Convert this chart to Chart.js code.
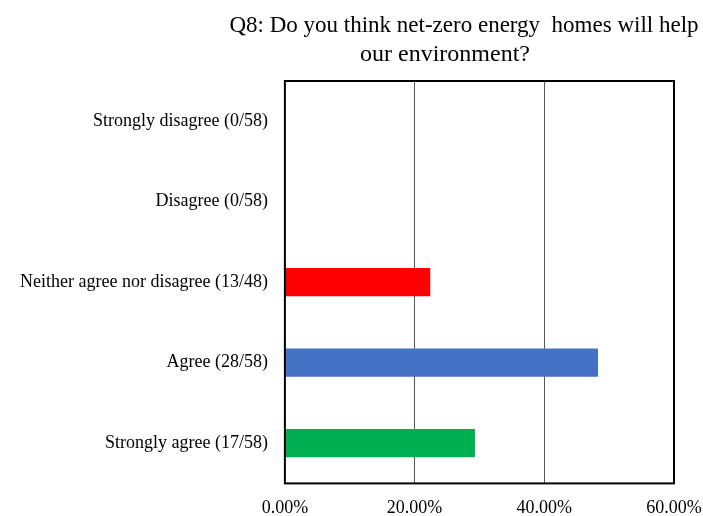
<!DOCTYPE html>
<html>
<head>
<meta charset="utf-8">
<script src="https://cdn.jsdelivr.net/npm/chart.js@4"></script>
<style>
  html, body { margin: 0; padding: 0; background: #fff; }
  #wrap { width: 703px; height: 516px; }
</style>
</head>
<body>
<div id="wrap"><canvas id="chart"></canvas></div>
<script>
// ===== DATA =====
const categories = [
  'Strongly disagree (0/58)',
  'Disagree (0/58)',
  'Neither agree nor disagree (13/48)',
  'Agree (28/58)',
  'Strongly agree (17/58)'
];
const percents = [0, 0, 22.41, 48.28, 29.31];   // % of respondents
const barColors = ['#FF0000', '#FF0000', '#FF0000', '#4472C4', '#00B050'];
const titleLines = ['Q8: Do you think net-zero energy  homes will help', 'our environment?'];
const xMax = 60;
const xStep = 20;

const serif = '"Liberation Serif", "Times New Roman", serif';

// title is drawn by hand so it can sit off-centre like the original
const titlePlugin = {
  id: 'manualTitle',
  afterDraw(chart) {
    const ctx = chart.ctx;
    ctx.save();
    ctx.fillStyle = '#000';
    ctx.font = '23px ' + serif;
    ctx.textAlign = 'center';
    ctx.textBaseline = 'alphabetic';
    ctx.fillText(titleLines[0], 464, 32);
    ctx.font = '24px ' + serif;
    ctx.fillText(titleLines[1], 445, 61);
    ctx.restore();
  }
};

// black box around the plot area
const boxPlugin = {
  id: 'plotBox',
  afterDatasetsDraw(chart) {
    const a = chart.chartArea;
    const ctx = chart.ctx;
    ctx.save();
    ctx.strokeStyle = '#000';
    ctx.lineWidth = 2;
    ctx.strokeRect(a.left, a.top, a.right - a.left, a.bottom - a.top);
    ctx.restore();
  }
};

new Chart(document.getElementById('chart'), {
  type: 'bar',
  data: {
    labels: categories,
    datasets: [{
      data: percents,
      backgroundColor: barColors,
      barPercentage: 0.9,
      categoryPercentage: 0.39
    }]
  },
  options: {
    indexAxis: 'y',
    responsive: true,
    maintainAspectRatio: false,
    animation: false,
    layout: { padding: { top: 81, left: 3, right: 0, bottom: -17 } },
    plugins: {
      legend: { display: false },
      title: { display: false },
      tooltip: { enabled: false }
    },
    scales: {
      x: {
        min: 0,
        max: xMax,
        // let the last tick label run to the canvas edge
        afterFit: function(scale) { scale.paddingRight = 29; },
        ticks: {
          stepSize: xStep,
          padding: 14,
          color: '#000',
          font: { family: serif, size: 18 },
          callback: function(v) { return v.toFixed(2) + '%'; }
        },
        grid: { color: '#595959', lineWidth: 1, drawTicks: false },
        border: { display: false }
      },
      y: {
        ticks: {
          padding: 17,
          color: '#000',
          font: { family: serif, size: 18 }
        },
        grid: { display: false, drawTicks: false },
        border: { display: false }
      }
    }
  },
  plugins: [titlePlugin, boxPlugin]
});
</script>
</body>
</html>
